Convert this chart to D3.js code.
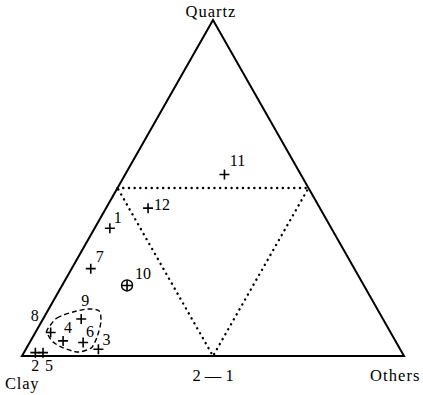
<!DOCTYPE html>
<html>
<head>
<meta charset="utf-8">
<script src="https://cdn.jsdelivr.net/npm/d3@7/dist/d3.min.js"></script>
<style>
  body { margin: 0; background: #fff; }
</style>
</head>
<body>
<svg id="chart" width="423" height="395"></svg>
<script>
// Sample compositions (percent): quartz / clay / others
const sampleIds = ["1", "2", "3", "4", "5", "6", "7", "8", "9", "10", "11", "12"];
const quartz    = [38,   1,   2, 4.5,   1,   4,  26,   7,  11,  21,  54,  44];
const clay      = [58,  96,  79,  87,  94,  82,  69,  89,  79,  62,  20,  45];
const others    = [ 4,   3,  19, 8.5,   5,  14,   5,   4,  10,  17,  26,  11];
const circledIds = ["10"];

// Group outline around samples 4, 6, 8, 9 (quartz %, others %)
const groupQuartz = [7.7, 11.3, 13.1, 14.0, 13.4, 10.1, 5.7, 2.4, 1.2, 2.4, 4.2, 6.25];
const groupOthers = [2.7,  3.5,  6.8, 10.3, 13.5, 15.6, 16.8, 16.9, 14.1, 9.6, 6.0, 3.7];

// Corner and base labels
const cornerLabels = ["Quartz", "Clay", "Others"];
const baseLabel = "2 — 1";

// Label placement relative to each mark
const labelOffset = {
  "1": [8, -11], "2": [0, 13], "3": [8, -10], "4": [5, -13], "5": [6, 13],
  "6": [7, -11], "7": [9, -12], "8": [-16, -17], "9": [4, -19],
  "10": [16, -12], "11": [13, -14], "12": [14, -4]
};

const FONT = "Liberation Serif";
const svg = d3.select("#chart");

// Ternary projection: horizontal position from (others + quartz/2), vertical from quartz
const xScale = d3.scaleLinear().domain([0, 100]).range([22, 404]);
const yScale = d3.scaleLinear().domain([0, 100]).range([356, 20]);
function project(q, o) {
  return [xScale(o + q / 2), yScale(q)];
}

const A = project(100, 0), L = project(0, 0), R = project(0, 100);

// Outer triangle
svg.append("path")
  .attr("d", d3.line()([A, L, R]) + "Z")
  .attr("fill", "none").attr("stroke", "#000").attr("stroke-width", 2)
  .attr("stroke-linejoin", "miter");

// Inner dotted triangle joining the side midpoints
const mids = [project(50, 0), project(50, 50), project(0, 50)];
svg.append("path")
  .attr("d", d3.line()(mids) + "Z")
  .attr("fill", "none").attr("stroke", "#000").attr("stroke-width", 2.4)
  .attr("stroke-dasharray", "0.1,5.6").attr("stroke-linecap", "round");

// Dashed group outline
const groupPts = groupQuartz.map((q, i) => project(q, groupOthers[i]));
svg.append("path")
  .attr("d", d3.line().curve(d3.curveCardinalClosed.tension(0.2))(groupPts))
  .attr("fill", "none").attr("stroke", "#000").attr("stroke-width", 1.4)
  .attr("stroke-dasharray", "5,3");

// Sample marks
const samples = sampleIds.map((id, i) => {
  const [x, y] = project(quartz[i], others[i]);
  return { id, x, y };
});
const g = svg.append("g");
const marks = g.selectAll("g.mark").data(samples).join("g")
  .attr("class", "mark")
  .attr("transform", d => `translate(${d.x},${d.y})`);
marks.append("path")
  .attr("d", "M-5,0H5M0,-5V5")
  .attr("stroke", "#000").attr("stroke-width", 1.6);
marks.filter(d => circledIds.includes(d.id))
  .append("circle").attr("r", 5.5)
  .attr("fill", "none").attr("stroke", "#000").attr("stroke-width", 1.4);

g.selectAll("text.lbl").data(samples).join("text")
  .attr("class", "lbl")
  .attr("x", d => d.x + labelOffset[d.id][0])
  .attr("y", d => d.y + labelOffset[d.id][1] + 5.5)
  .attr("text-anchor", "middle")
  .style("font-family", FONT).attr("font-size", 16).attr("fill", "#000")
  .text(d => d.id);

// Corner labels
const lab = svg.append("g").style("font-family", FONT).attr("font-size", 16.5).attr("fill", "#000");
lab.append("text").attr("x", A[0] - 2).attr("y", 17)
  .attr("text-anchor", "middle").attr("letter-spacing", 1)
  .text(cornerLabels[0]);
lab.append("text").attr("x", 5).attr("y", 389)
  .attr("letter-spacing", 0.8)
  .text(cornerLabels[1]);
lab.append("text").attr("x", 370).attr("y", 381)
  .attr("letter-spacing", 1.1)
  .text(cornerLabels[2]);
lab.append("text").attr("x", mids[2][0]).attr("y", 381)
  .attr("text-anchor", "middle")
  .text(baseLabel);
</script>
</body>
</html>
